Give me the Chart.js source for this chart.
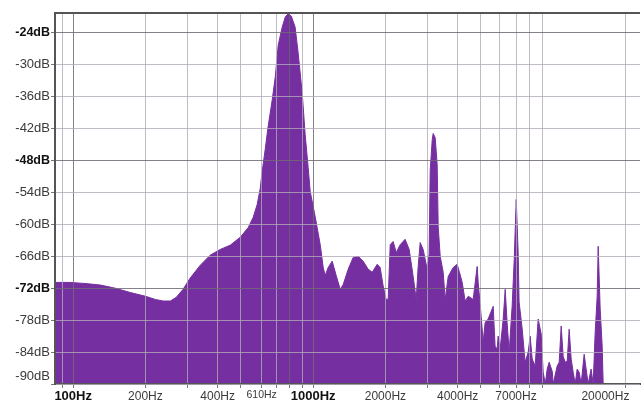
<!DOCTYPE html>
<html>
<head>
<meta charset="utf-8">
<script src="https://cdn.jsdelivr.net/npm/chart.js@4.4.1/dist/chart.umd.min.js"></script>
<style>
  html, body { margin: 0; padding: 0; background: #fff; }
</style>
</head>
<body>
<canvas id="spectrum" width="642" height="405"></canvas>
<script>
// spectrum outline (Hz / dB)
const freqHz = [
    84, 97, 112, 130, 150, 173, 200, 220, 237, 254,
    269, 287, 307, 338, 372, 410, 451, 497, 536, 562,
    584, 601, 613, 631, 649, 675, 695, 715, 743, 765,
    787, 810, 841, 866, 900, 926, 953, 972, 1019, 1070,
    1101, 1122, 1155, 1200, 1247, 1296, 1334, 1400, 1468, 1540,
    1615, 1694, 1762, 1848, 1901, 1958, 2014, 2053, 2094, 2154,
    2218, 2305, 2415, 2512, 2610, 2687, 2738, 2792, 2872, 2985,
    3041, 3073, 3133, 3162, 3224, 3286, 3318, 3383, 3481, 3548,
    3652, 3831, 3981, 4058, 4178, 4297, 4427, 4642, 4777, 4823,
    4870, 5012, 5107, 5208, 5357, 5623, 5728, 5843, 5896, 6013,
    6190, 6310, 6427, 6556, 6745, 6881, 7015, 7145, 7211, 7430,
    7638, 7870, 8016, 8175, 8414, 8660, 8913, 9085, 9268, 9441,
    9623, 9908, 10000, 10392, 10593, 10798, 11007, 11220, 11437, 11659,
    11885, 12115, 12350, 12589, 12833, 13081, 13460, 13720, 13985, 14389,
    14678, 14962, 15252, 15399, 15697, 16000, 16156
];
const levelDb = [
    -70.9, -70.9, -71.1, -71.4, -72.0, -72.8, -73.5, -74.1, -74.4, -74.4,
    -73.7, -72.2, -70.1, -67.7, -65.8, -64.7, -63.9, -62.4, -60.6, -58.7,
    -56.3, -53.4, -50.1, -45.9, -41.6, -36.6, -32.3, -26.3, -22.9, -21.0,
    -20.4, -20.8, -22.9, -27.8, -35.3, -43.1, -49.3, -53.8, -58.5, -63.8,
    -68.1, -69.6, -68.1, -66.9, -69.6, -72.2, -71.3, -68.4, -66.2, -66.0,
    -66.9, -68.4, -69.0, -67.5, -68.1, -71.6, -74.1, -74.1, -63.8, -63.2,
    -65.3, -63.8, -62.8, -64.7, -69.8, -74.1, -67.9, -63.4, -64.7, -68.4,
    -65.6, -49.9, -44.1, -42.9, -43.7, -48.8, -60.4, -66.0, -69.0, -74.1,
    -69.8, -68.1, -67.5, -68.8, -70.9, -74.4, -73.5, -74.1, -69.4, -67.9,
    -70.9, -77.3, -82.1, -78.4, -77.8, -75.4, -82.9, -83.4, -81.0, -83.4,
    -77.8, -72.2, -78.4, -84.0, -75.4, -66.6, -55.3, -65.3, -74.6, -79.7,
    -85.9, -84.0, -81.0, -85.3, -86.6, -77.8, -80.6, -87.8, -90, -87.2,
    -85.9, -87.6, -90, -86.6, -85.9, -79.1, -84.8, -85.9, -85.7, -79.7,
    -85.3, -87.8, -90, -87.2, -87.8, -90, -84.4, -87.2, -90, -87.2,
    -90, -80.3, -73.5, -64.1, -75.9, -82.9, -90
];

// axes
const xGridHz = [90, 100, 200, 300, 400, 500, 610, 700, 800, 900,
    1000, 2000, 3000, 4000, 5000, 6000, 7000, 8000, 9000, 20000];
const xLabelHz = [100, 200, 400, 610, 1000, 2000, 4000, 7000, 20000];
const xLabelText = ['100Hz', '200Hz', '400Hz', '610Hz', '1000Hz', '2000Hz', '4000Hz', '7000Hz', '20000Hz'];
const xBoldHz = [100, 1000];
const yGridDb = [-90, -84, -78, -72, -66, -60, -54, -48, -42, -36, -30, -24];
const yBoldDb = [-72, -48, -24];

const X_MIN = 84, X_MAX = 23000;
const Y_MIN = -90, Y_TOP = -20.25;

const purple = 'rgb(117,47,160)';
const lightGrid = 'rgba(178,170,184,0.8)';
const darkGrid = 'rgba(112,106,118,0.85)';

Chart.defaults.font.family = '"Liberation Sans", Arial, sans-serif';

const points = freqHz.map((f, i) => ({ x: f, y: levelDb[i] }));

new Chart(document.getElementById('spectrum'), {
    type: 'line',
    data: {
        datasets: [{
            data: points,
            fill: 'start',
            backgroundColor: purple,
            borderColor: purple,
            borderWidth: 1,
            pointRadius: 0,
            tension: 0,
        }]
    },
    options: {
        responsive: false,
        animation: false,
        devicePixelRatio: 1,
        layout: { padding: { top: 13, right: 2, left: 0, bottom: 0 } },
        plugins: { legend: { display: false }, tooltip: { enabled: false } },
        scales: {
            x: {
                type: 'logarithmic',
                min: X_MIN,
                max: X_MAX,
                bounds: 'data',
                afterBuildTicks: (s) => { s.ticks = xGridHz.map(v => ({ value: v })); },
                afterFit: (s) => { s.height = 21; s.paddingLeft = 0; s.paddingRight = 0; },
                grid: {
                    z: 1,
                    color: (ctx) => {
                        const v = ctx.tick && ctx.tick.value;
                        if (v === 800) return 'rgba(105,100,110,0.85)';
                        return (v === 100 || v === 1000) ? darkGrid : lightGrid;
                    },
                    tickLength: 4,
                    tickColor: '#777',
                },
                border: { color: '#555', width: 2, z: 1 },
                ticks: {
                    autoSkip: false,
                    maxRotation: 0,
                    minRotation: 0,
                    padding: 1,
                    color: (ctx) => xBoldHz.includes(ctx.tick.value) ? '#111' : '#3a3a3a',
                    font: (ctx) => {
                        const v = ctx.tick && ctx.tick.value;
                        if (xBoldHz.includes(v)) return { size: 13, weight: 'bold' };
                        if (v === 610) return { size: 10.5 };
                        return { size: 12 };
                    },
                    callback: (v) => {
                        const i = xLabelHz.indexOf(v);
                        if (i < 0) return '';
                        // last label sits left of its grid line, like the original
                        return v === 20000 ? xLabelText[i] + '            ' : xLabelText[i];
                    }
                }
            },
            y: {
                type: 'linear',
                min: Y_MIN,
                max: Y_TOP,
                bounds: 'data',
                afterBuildTicks: (s) => { s.ticks = yGridDb.concat([Y_TOP]).map(v => ({ value: v })); },
                afterFit: (s) => { s.width = 55; s.paddingTop = 0; s.paddingBottom = 0; },
                grid: {
                    z: 1,
                    color: (ctx) => {
                        const v = ctx.tick && ctx.tick.value;
                        if (v === Y_TOP) return '#555';
                        return yBoldDb.includes(v) ? darkGrid : lightGrid;
                    },
                    lineWidth: (ctx) => (ctx.tick && ctx.tick.value === Y_TOP) ? 2 : 1,
                    tickLength: 4,
                    tickColor: (ctx) => (ctx.tick && ctx.tick.value === Y_TOP) ? 'rgba(0,0,0,0)' : '#777',
                },
                border: { color: '#555', width: 2, z: 1 },
                ticks: {
                    autoSkip: false,
                    padding: 1,
                    color: (ctx) => yBoldDb.includes(ctx.tick.value) ? '#111' : '#3a3a3a',
                    font: (ctx) => yBoldDb.includes(ctx.tick && ctx.tick.value)
                        ? { size: 12.5, weight: 'bold' } : { size: 13 },
                    callback: (v) => {
                        if (v === Y_TOP) return '';
                        if (v === Y_MIN) return [v + 'dB', ''];
                        return v + 'dB';
                    }
                }
            }
        }
    }
});
</script>
</body>
</html>
